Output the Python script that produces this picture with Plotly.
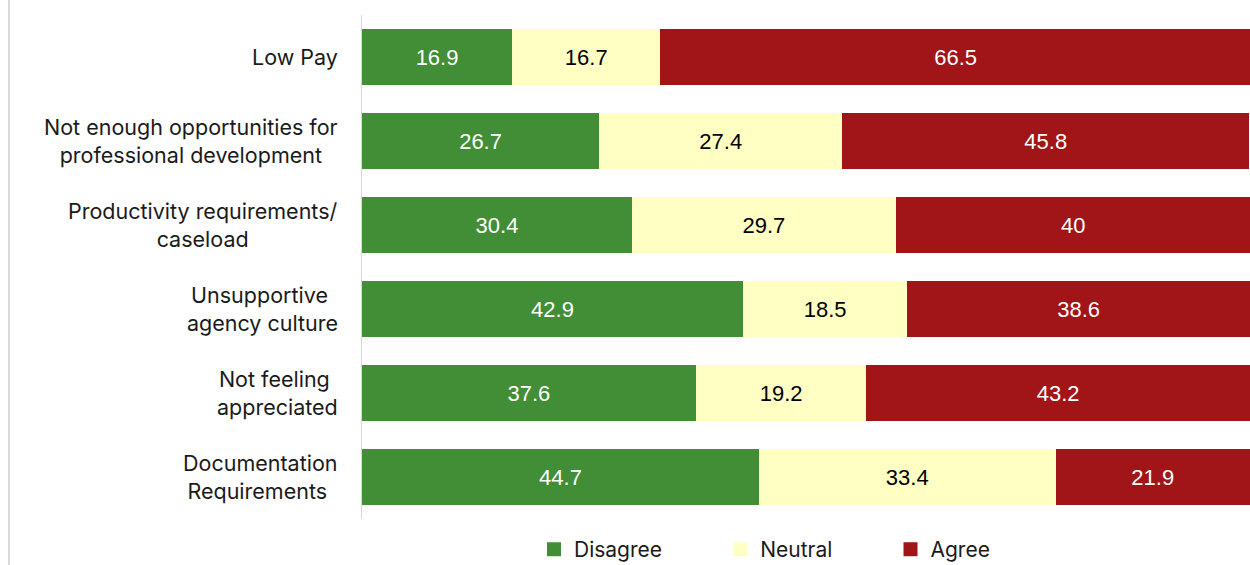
import plotly.graph_objects as go

# Survey items (top to bottom) and response shares (%)
categories = [
    "Low Pay",
    "Not enough opportunities for<br>professional development",
    "Productivity requirements/<br>caseload",
    "Unsupportive\u00a0<br>agency culture",
    "Not feeling\u00a0<br>appreciated",
    "Documentation<br>Requirements\u00a0",
]
disagree = [16.9, 26.7, 30.4, 42.9, 37.6, 44.7]
neutral = [16.7, 27.4, 29.7, 18.5, 19.2, 33.4]
agree = [66.5, 45.8, 40, 38.6, 43.2, 21.9]

series = [
    ("Disagree", disagree, "#428E37", "white"),
    ("Neutral", neutral, "#FFFFC4", "black"),
    ("Agree", agree, "#A11418", "white"),
]

label_font = "Inter, 'Open Sans', sans-serif"
value_font = "'Liberation Sans', Arial, sans-serif"
legend_pad = "\u00a0" * 9

fig = go.Figure()
for name, vals, color, txtcolor in series:
    fig.add_trace(go.Bar(
        name=name,
        y=categories,
        x=vals,
        orientation="h",
        marker=dict(color=color, line=dict(width=0)),
        text=[str(v) for v in vals],
        textposition="inside",
        insidetextanchor="middle",
        textangle=0,
        textfont=dict(color=txtcolor, size=22, family=value_font),
        constraintext="none",
        showlegend=False,
    ))

# Legend entries with larger square swatches
for i, (name, _, color, _) in enumerate(series):
    fig.add_trace(go.Scatter(
        name=name + (legend_pad if i < len(series) - 1 else ""),
        x=[None], y=[None],
        mode="markers",
        marker=dict(symbol="square", size=14, color=color),
        showlegend=True,
    ))

# Category labels: block right-aligned against the axis, lines centred
annotations = [
    dict(
        x=0, xref="paper", xanchor="right", xshift=-22,
        y=cat, yref="y", yanchor="middle",
        text=cat, showarrow=False, align="center",
        font=dict(size=21.5, family=label_font, color="#1a1a1a"),
    )
    for cat in categories
]

fig.update_layout(
    barmode="stack",
    bargap=0.333,
    width=1250,
    height=565,
    margin=dict(l=362, r=0, t=15, b=46, autoexpand=False),
    paper_bgcolor="white",
    plot_bgcolor="white",
    uniformtext=dict(mode=False),
    annotations=annotations,
    legend=dict(
        orientation="h",
        x=(534 - 362) / 888, xanchor="left",
        y=-0.02, yanchor="top",
        font=dict(size=21, family=label_font, color="#1a1a1a"),
        traceorder="normal",
        itemsizing="trace",
    ),
    xaxis=dict(
        range=[0, 100],
        showgrid=False,
        zeroline=False,
        showticklabels=False,
        showline=False,
        fixedrange=True,
    ),
    yaxis=dict(
        autorange="reversed",
        showgrid=False,
        zeroline=False,
        showline=True,
        linecolor="#d9d9d9",
        linewidth=1,
        ticks="",
        showticklabels=False,
    ),
    shapes=[
        dict(
            type="line", xref="paper", yref="paper",
            x0=-353 / 888, x1=-353 / 888, y0=-46 / 504, y1=1 + 15 / 504,
            line=dict(color="#d9d9d9", width=2),
        )
    ],
)

fig.write_html("out.html")
